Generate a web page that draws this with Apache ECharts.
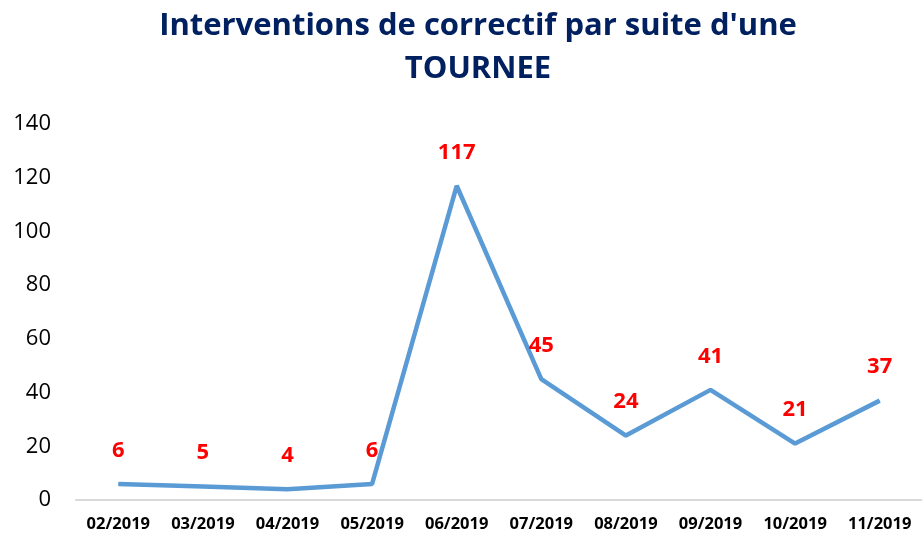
<!DOCTYPE html>
<html><head><meta charset="utf-8">
<script src="https://cdn.jsdelivr.net/npm/echarts@6/dist/echarts.min.js"></script>
<style>html,body{margin:0;padding:0;background:#fff}#c{width:922px;height:543px}</style>
</head><body><div id="c"></div>
<script>
const categories = ['02/2019','03/2019','04/2019','05/2019','06/2019','07/2019','08/2019','09/2019','10/2019','11/2019'];
const values = [6,5,4,6,117,45,24,41,21,37];
const yTicks = [0,20,40,60,80,100,120,140];
const chart = echarts.init(document.getElementById('c'));
chart.setOption({
  animation:false,
  title:{text:"Interventions de correctif par suite d'une\nTOURNEE",left:473,top:0,textAlign:'center',
    textStyle:{fontFamily:'Open Sans',fontWeight:'bold',fontSize:31,color:'#002060',lineHeight:43}},
  grid:{left:76,right:-3,top:124,bottom:43},
  xAxis:{type:'category',data:categories,boundaryGap:true,
    axisLine:{show:true,lineStyle:{color:'#d9d9d9',width:2}},axisTick:{show:false},
    axisLabel:{interval:0,fontFamily:'Open Sans',fontWeight:'bold',fontSize:16.5,color:'#000',margin:16}},
  yAxis:{type:'value',min:yTicks[0],max:yTicks[yTicks.length-1],interval:20,
    splitLine:{show:false},axisLine:{show:false},axisTick:{show:false},
    axisLabel:{fontFamily:'Open Sans',fontSize:22,color:'#000',margin:25}},
  series:[{type:'line',data:values,showSymbol:true,symbol:'circle',symbolSize:1,
    itemStyle:{color:'#5B9BD5',borderWidth:0},
    lineStyle:{color:'#5B9BD5',width:4.5},
    label:{show:true,position:'top',distance:22,fontFamily:'Open Sans',fontWeight:'bold',fontSize:22,color:'#FF0000'}}]
});
</script></body></html>
